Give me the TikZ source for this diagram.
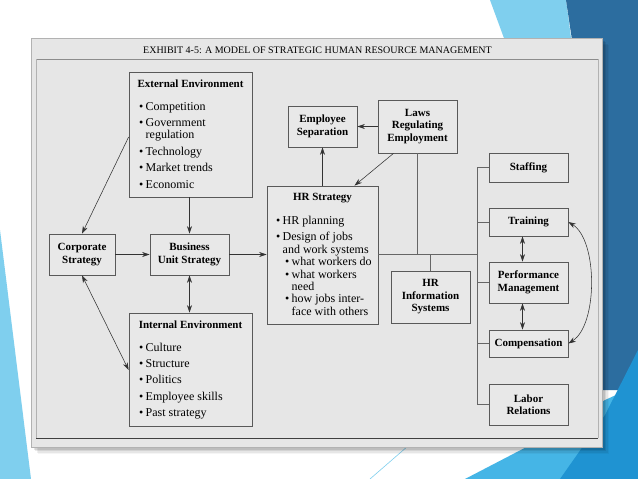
\documentclass[tikz,border=0pt]{standalone}
\usepackage{fontspec}
\setmainfont{Liberation Serif}
\usetikzlibrary{arrows.meta}
\definecolor{panelc}{HTML}{E6E6E6}
\definecolor{boxc}{HTML}{E8E8E8}
\definecolor{lblue}{HTML}{7FCFEE}
\definecolor{dblue}{HTML}{2C6D9F}
\definecolor{mblue}{HTML}{1F93D2}
\definecolor{cblue}{HTML}{45B5E6}
\newcommand\bul{\makebox[6.5pt][l]{\textbullet}}
\newcommand\ind[1]{\hspace*{#1}}
\begin{document}
\begin{tikzpicture}[x=1pt,y=-1pt,
  box/.style={draw=black!65, line width=0.75pt, fill=boxc, inner sep=0pt},
  bt/.style={inner sep=0pt, align=center, font=\fontsize{11}{12.5}\selectfont\bfseries},
  lst/.style={inner sep=0pt, align=left, anchor=north west, font=\fontsize{12}{12.4}\selectfont},
  conn/.style={draw=black!80, line width=0.55pt},
  tip/.tip={Stealth[length=7.5pt,width=5pt]},
  lnk/.style={draw=black!60, line width=0.6pt}]
\useasboundingbox (0,0) rectangle (638,479);
% background
\fill[white] (0,0) rectangle (638,479);
\fill[lblue] (490,0) -- (566,0) -- (574,60) -- (512,60) -- cycle;
\fill[dblue] (566,0) -- (638,0) -- (638,390) -- (598,390) -- (598,40) -- (572,40) -- cycle;
\fill[cblue] (465,479) -- (540,440) -- (605,400) -- (638,385) -- (638,479) -- cycle;
\fill[mblue] (560,479) -- (605,415) -- (638,350) -- (638,479) -- cycle;
\fill[lblue] (0,230) -- (31,479) -- (0,479) -- cycle;
\draw[lblue, line width=0.6pt] (408,446) -- (370,479);
% panel shadow
\foreach \o/\a in {7/0.04,5.5/0.06,4/0.08,2.5/0.1,1/0.12}{
  \fill[black, opacity=\a] (31+\o,38+\o) rectangle (602+\o,447+\o);
}
\fill[panelc] (31,38) rectangle (602,447);
\draw[black!30, line width=0.6pt] (31,38) rectangle (602,447);
\draw[black!45, line width=0.6pt] (36,59) -- (598,59);
\draw[black!30, line width=0.6pt] (36,59) -- (36,438) (598,59) -- (598,438);
\draw[black!75, line width=0.8pt] (36,438) -- (598,438);
\node[inner sep=0pt, font=\fontsize{10}{12}\selectfont] (title) at (317.5,50) {EXHIBIT 4-5: A MODEL OF STRATEGIC HUMAN RESOURCE MANAGEMENT};
% boxes
\node[box, minimum width=123pt, minimum height=125pt] (ext) at (190.5,134.5) {};
\node[box, minimum width=66pt, minimum height=41pt] (corp) at (82,254.5) {};
\node[box, minimum width=79pt, minimum height=41pt] (bus) at (189.5,254.5) {};
\node[box, minimum width=123pt, minimum height=113pt] (int) at (190.5,369.5) {};
\node[box, minimum width=69pt, minimum height=41pt] (emp) at (322.5,126.5) {};
\node[box, minimum width=79pt, minimum height=53pt] (laws) at (417.5,126.5) {};
\node[box, minimum width=111pt, minimum height=138pt] (hrs) at (322.5,255) {};
\node[box, minimum width=79pt, minimum height=52pt] (hris) at (430.5,297) {};
\node[box, minimum width=79pt, minimum height=29pt] (staff) at (528.5,167.5) {};
\node[box, minimum width=79pt, minimum height=28pt] (train) at (528.5,222) {};
\node[box, minimum width=79pt, minimum height=41pt] (perf) at (528.5,282.5) {};
\node[box, minimum width=79pt, minimum height=27pt] (comp) at (528.5,343.5) {};
\node[box, minimum width=79pt, minimum height=41pt] (labor) at (528.5,404.5) {};
% texts
\node[bt] (extT) at (190.5,84) {External Environment};
\node[lst] (extL) at (139,102) {\bul Competition\\[4pt]\bul Government\\\ind{6.5pt}regulation\\[4pt]\bul Technology\\[4pt]\bul Market trends\\[4pt]\bul Economic};
\node[bt] (corpT) at (corp) {Corporate\\Strategy};
\node[bt] (busT) at (bus) {Business\\Unit Strategy};
\node[bt] (intT) at (190.5,325) {Internal Environment};
\node[lst] (intL) at (139,342.5) {\bul Culture\\[4pt]\bul Structure\\[4pt]\bul Politics\\[4pt]\bul Employee skills\\[4pt]\bul Past strategy};
\node[bt] (empT) at (emp) {Employee\\Separation};
\node[bt] (lawsT) at (laws) {Laws\\Regulating\\Employment};
\node[bt] (hrsT) at (322.5,198) {HR Strategy};
\node[lst] (hrsL) at (276,215.5) {\bul HR planning\\[4.5pt]\bul Design of jobs\\\ind{6.5pt}and work systems\\\ind{9pt}\bul what workers do\\\ind{9pt}\bul what workers\\\ind{15.5pt}need\\\ind{9pt}\bul how jobs inter-\\\ind{15.5pt}face with others};
\node[bt] (hrisT) at (hris) {HR\\Information\\Systems};
\node[bt] (staffT) at (staff) {Staffing};
\node[bt] (trainT) at (train) {Training};
\node[bt] (perfT) at (perf) {Performance\\Management};
\node[bt] (compT) at (comp) {Compensation};
\node[bt] (laborT) at (labor) {Labor\\Relations};
% connectors
\draw[conn, -tip] (ext.west |- 0,137) -- (corp.north);
\draw[conn, -tip] (ext.south -| bus.north) -- (bus.north);
\draw[conn, -tip] (corp.east) -- (bus.west);
\draw[conn, -tip] (bus.east) -- (bus.east -| hrs.west);
\draw[conn, tip-tip] (bus.south) -- (bus.south |- int.north);
\draw[conn, tip-tip] (corp.south) -- (int.west |- 0,370);
\draw[conn, -tip] (hrs.north) -- (emp.south);
\draw[conn, -tip] (laws.west) -- (emp.east);
\draw[conn, -tip] ([xshift=-24pt]laws.south) -- ([xshift=32pt]hrs.north);
\coordinate (bx) at (477,254);
\coordinate (btop) at (477,167.5);
\coordinate (bbot) at (477,404.5);
\draw[lnk] (hrs.east |- bx) -- (bx);
\draw[lnk] (laws.south) -- (laws.south |- bx);
\draw[lnk] (hris.north) -- (hris.north |- bx);
\draw[lnk] (btop) -- (bbot);
\draw[lnk] (btop) -- (staff.west);
\draw[lnk] (train.west -| bx) -- (train.west);
\draw[lnk] (perf.west -| bx) -- (perf.west);
\draw[lnk] (comp.west -| bx) -- (comp.west);
\draw[lnk] (bbot) -- (labor.west);
\draw[conn, tip-tip] ([xshift=-6pt]train.south) -- ([xshift=-6pt]perf.north);
\draw[conn, tip-tip] ([xshift=-6pt]perf.south) -- ([xshift=-6pt]comp.north);
\draw[conn, tip-tip] (train.east) .. controls (598,240) and (598,325) .. (comp.east);
\end{tikzpicture}
\end{document}
